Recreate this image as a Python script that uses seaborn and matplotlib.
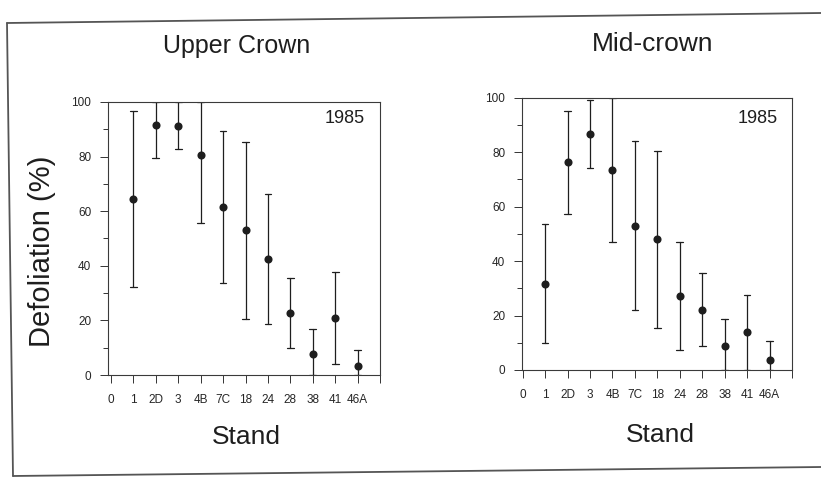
import numpy as np
import pandas as pd
import matplotlib
matplotlib.use("Agg")
import matplotlib.pyplot as plt
from matplotlib.lines import Line2D
import seaborn as sns

# stands along the x axis (position 0 is an empty "0" tick)
tick_labels = ['0', '1', '2D', '3', '4B', '7C', '18', '24', '28', '38', '41', '46A', '']
stands = ['1', '2D', '3', '4B', '7C', '18', '24', '28', '38', '41', '46A']

# Upper crown, 1985: mean and range
upper_mean = [64.3, 91.6, 91.1, 80.7, 61.6, 53.0, 42.4, 22.8, 7.6, 21.0, 3.3]
upper_low = [32.1, 79.5, 82.7, 55.6, 33.8, 20.6, 18.5, 9.8, 0.0, 4.0, 0.0]
upper_high = [96.6, 100.0, 100.0, 100.0, 89.4, 85.2, 66.2, 35.7, 16.8, 37.9, 9.3]

# Mid-crown, 1985
mid_mean = [31.6, 76.3, 86.8, 73.6, 52.9, 48.0, 27.2, 22.0, 8.8, 14.0, 3.5]
mid_low = [10.0, 57.3, 74.2, 46.9, 21.9, 15.3, 7.5, 8.9, 0.0, 0.0, 0.0]
mid_high = [53.5, 95.3, 99.3, 100.0, 84.0, 80.5, 47.0, 35.5, 18.7, 27.5, 10.6]


def long_form(mean, low, high):
    rows = []
    for i, s in enumerate(stands):
        for v in (low[i], mean[i], high[i]):
            rows.append({'pos': i + 1, 'stand': s, 'defol': v})
    return pd.DataFrame(rows)


sns.set_style("ticks")
plt.rcParams['font.family'] = ['Liberation Sans', 'DejaVu Sans']
ink = '#1e1e1e'

fig = plt.figure(figsize=(8.21, 4.79), dpi=100)
ax1 = fig.add_axes([0.1315, 0.2171, 0.3314, 0.5700])
ax2 = fig.add_axes([0.6358, 0.2276, 0.3289, 0.5684])


def draw_panel(ax, df, xlim, year_xy):
    sns.pointplot(data=df, x='pos', y='defol', native_scale=True,
                  estimator='median', errorbar=('pi', 100),
                  linestyle='none', color=ink, markersize=3.8,
                  capsize=0.3, err_kws={'linewidth': 0.9}, ax=ax)
    ax.set_xlim(*xlim)
    ax.set_ylim(0, 100)
    ax.set_xticks(range(len(tick_labels)))
    ax.set_xticklabels(tick_labels, fontsize=8.5)
    ax.set_yticks(range(0, 101, 20))
    ax.set_yticks(range(10, 100, 20), minor=True)
    ax.tick_params(axis='y', labelsize=8.5)
    ax.tick_params(which='major', length=6, width=0.7, color='#333333', pad=6)
    ax.tick_params(which='minor', length=3.5, width=0.7, color='#333333')
    ax.tick_params(axis='x', pad=8)
    for sp in ax.spines.values():
        sp.set_visible(True)
        sp.set_linewidth(0.8)
        sp.set_color('#3a3a3a')
    ax.set_xlabel('')
    ax.set_ylabel('')
    ax.text(year_xy[0], year_xy[1], '1985', transform=ax.transAxes,
            ha='right', va='center', fontsize=13, color=ink)


draw_panel(ax1, long_form(upper_mean, upper_low, upper_high), (-0.134, 12.0), (0.945, 0.941))
draw_panel(ax2, long_form(mid_mean, mid_low, mid_high), (-0.03, 11.9), (0.948, 0.925))

fig.text(237 / 821, 1 - 46 / 479, 'Upper Crown', ha='center', va='center', fontsize=18, color=ink)
fig.text(653 / 821, 1 - 44 / 479, 'Mid-crown', ha='center', va='center', fontsize=19, color=ink)
fig.text(246 / 821, 1 - 437 / 479, 'Stand', ha='center', va='center', fontsize=19, color=ink)
fig.text(660 / 821, 1 - 435 / 479, 'Stand', ha='center', va='center', fontsize=19, color=ink)
fig.text(42 / 821, 1 - 251 / 479, 'Defoliation (%)', ha='center', va='center',
         rotation=90, fontsize=21, color=ink)

# border of the scanned figure
W, H = 821.0, 479.0
for (xa, ya), (xb, yb) in [((7, 23), (821, 13)), ((7, 23), (13, 476)), ((13, 476), (821, 467))]:
    fig.add_artist(Line2D([xa / W, xb / W], [1 - ya / H, 1 - yb / H],
                          transform=fig.transFigure, color='#555555', linewidth=1.3))

fig.savefig('out.png', dpi=100)
